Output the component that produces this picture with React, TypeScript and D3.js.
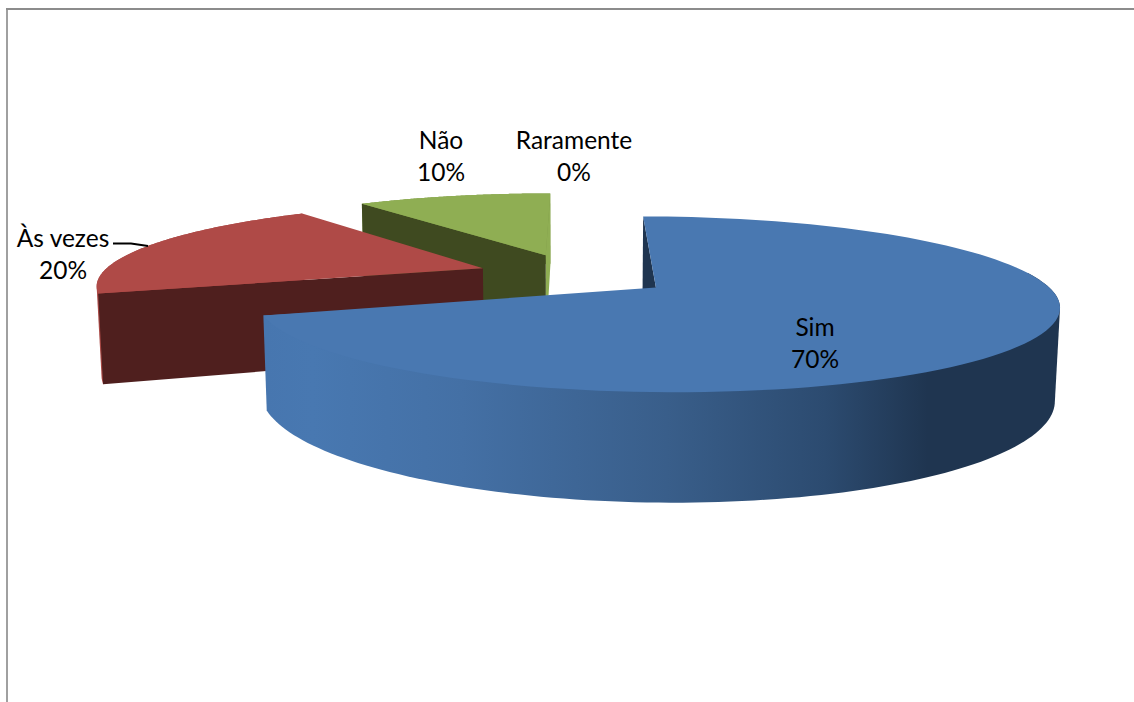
import React from "react";
import * as d3 from "d3";

// Survey answers, in clockwise order from the top of the pie.
const categories = ["Sim", "Às vezes", "Não", "Raramente"];
const shares = [70, 20, 10, 0];

const topColors = ["#4978B1", "#AF4A47", "#8FAE53", "#8FAE53"];
const faceColors = ["#1F3550", "#4F1F1E", "#3F4A20", "#3F4A20"];
const sideColors = ["url(#rimShade)", "#A84845", "#7F9A4A", "#7F9A4A"];

// Label centres for each category, two text lines per label.
const labelCentres: [number, number][] = [
  [815, 336],
  [63, 247],
  [441, 149],
  [574, 149],
];

const WIDTH = 1134;
const HEIGHT = 702;

// Perspective model of the pie: a ground-plane circle seen from above, with
// receding lines meeting at the vanishing point (vanishX, vanishY).
const vanishX = 576;
const vanishY = -157;
const radius = 382;
const planeDrop = 431.7;
const rimDrop = 518.5;
const depth = 0.185;
const explodeX = 0.256;
const explodeZ = 0.267;
const originX = -1.5;

type P = [number, number];

function project(x: number, z: number, lower: boolean): P {
  const w = 1 + depth * z;
  if (!lower) {
    return [vanishX + (originX + radius * x) / w, vanishY + planeDrop / w];
  }
  return [vanishX + (originX + radius * x) / (w + 0.01), vanishY + rimDrop / w];
}

const polar = (a: number, mid: number, r: number, lower: boolean): P => {
  const x = explodeX * Math.sin(mid) + r * Math.sin(a);
  const z = explodeZ * Math.cos(mid) + r * Math.cos(a);
  return project(x, z, lower);
};

const linePath = d3.line<P>().x((d) => d[0]).y((d) => d[1]);
const closed = (pts: P[]) => linePath(pts) + "Z";

const pie = d3.pie<number>().sort(null).startAngle(0).endAngle(2 * Math.PI);
const slices = pie(shares);

// The rim only needs its part that turns towards the viewer.
const rimStart = (80 * Math.PI) / 180;

function sliceShapes(i: number) {
  const s = slices[i];
  const mid = (s.startAngle + s.endAngle) / 2;
  const sweep = (from: number) =>
    d3.range(0, 121).map((k) => from + ((s.endAngle - from) * k) / 120);
  const angles = sweep(s.startAngle);
  const upper = angles.map((a) => polar(a, mid, 1, false));
  const lowerArc = angles.map((a) => polar(a, mid, 1, true));
  const rimAngles = sweep(Math.max(s.startAngle, rimStart));
  const rimPts = [
    ...rimAngles.map((a) => polar(a, mid, 1, false)),
    ...rimAngles.map((a) => polar(a, mid, 1, true)),
  ];
  const apex = polar(0, mid, 0, false);
  const apexLow = polar(0, mid, 0, true);
  return {
    top: closed([apex, ...upper]),
    rim: closed(d3.polygonHull(rimPts) as P[]),
    startFace: closed([apex, upper[0], lowerArc[0], apexLow]),
    endFace: closed([apex, upper[120], lowerArc[120], apexLow]),
  };
}

const paintOrder = [2, 1, 0];

export default function App() {
  return (
    <svg
      width={WIDTH}
      height={HEIGHT}
      style={{ position: "fixed", left: 0, top: 0, background: "#fff" }}
      fontFamily="Lato, Carlito, sans-serif"
      fontSize={24.5}
    >
      <defs>
        <linearGradient id="rimShade" gradientUnits="userSpaceOnUse" x1={265} x2={1054} y1={0} y2={0}>
          <stop offset="0" stopColor="#4776AF" />
          <stop offset="0.06" stopColor="#4878B1" />
          <stop offset="0.25" stopColor="#4470A5" />
          <stop offset="0.51" stopColor="#395E8A" />
          <stop offset="0.71" stopColor="#2C4B70" />
          <stop offset="0.84" stopColor="#1F3550" />
          <stop offset="1" stopColor="#1F3550" />
        </linearGradient>
      </defs>
      <rect x={0} y={0} width={WIDTH} height={HEIGHT} fill="#fff" />
      <path d="M7 702V9" fill="none" stroke="#A0A0A0" strokeWidth={2} />
      <path d={`M6 9H${WIDTH}`} fill="none" stroke="#8C8C8C" strokeWidth={2} />

      {paintOrder.map((i) => {
        const shape = sliceShapes(i);
        return (
          <g key={categories[i]}>
            <path d={shape.rim} fill={sideColors[i]} />
            {i === 2 && <path d={shape.endFace} fill="#8FAE53" />}
            <path d={shape.startFace} fill={faceColors[i]} />
            <path d={shape.top} fill={topColors[i]} />
          </g>
        );
      })}

      <path d="M113 243.5H131L148 246" fill="none" stroke="#000" strokeWidth={1.8} />

      {categories.map((name, i) => {
        const [cx, cy] = labelCentres[i];
        return (
          <text key={name} textAnchor="middle" fill="#000">
            <tspan x={cx} y={cy}>{name}</tspan>
            <tspan x={cx} y={cy + 32}>{`${shares[i]}%`}</tspan>
          </text>
        );
      })}
    </svg>
  );
}
